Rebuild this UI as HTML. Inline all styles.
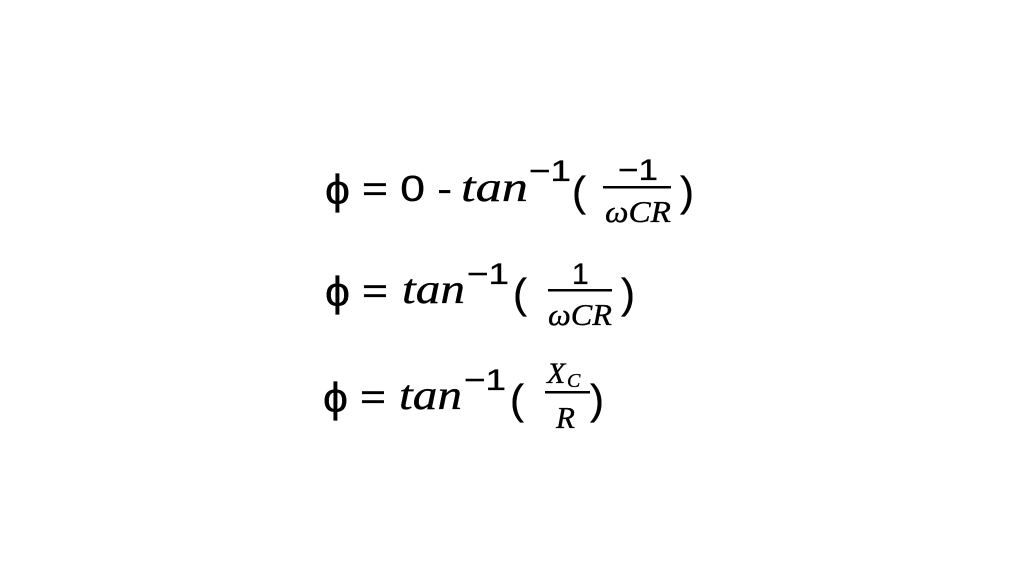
<!DOCTYPE html>
<html><head><style>html,body{margin:0;padding:0;background:#fff;}svg{display:block}</style></head>
<body>
<svg width="1024" height="576" viewBox="0 0 1024 576" xmlns="http://www.w3.org/2000/svg" font-family="Liberation Sans, DejaVu Sans, sans-serif" fill="#000" stroke="#000" stroke-width="0.35">
<!-- Line 1 -->
<text x="325" y="204" font-size="42" textLength="25" lengthAdjust="spacingAndGlyphs">ϕ</text>
<text x="362" y="201" font-size="36" textLength="90" lengthAdjust="spacingAndGlyphs">= 0 -</text>
<text x="461" y="201" font-size="42" font-style="italic" font-family="Liberation Serif, serif" textLength="67" lengthAdjust="spacingAndGlyphs">tan</text>
<text x="529" y="181" font-size="30" textLength="42" lengthAdjust="spacingAndGlyphs">−1</text>
<text x="572" y="206" font-size="42">(</text>
<text x="618" y="180" font-size="30" textLength="40" lengthAdjust="spacingAndGlyphs">−1</text>
<rect x="603" y="186" width="68" height="2.5" stroke="none"/>
<text x="605" y="222" font-size="31" font-style="italic" font-family="Liberation Serif, serif" textLength="66" lengthAdjust="spacingAndGlyphs">ωCR</text>
<text x="680" y="206" font-size="42">)</text>
<!-- Line 2 -->
<text x="325" y="306" font-size="42" textLength="25" lengthAdjust="spacingAndGlyphs">ϕ</text>
<text x="362" y="303" font-size="36" textLength="26" lengthAdjust="spacingAndGlyphs">=</text>
<text x="402" y="303" font-size="42" font-style="italic" font-family="Liberation Serif, serif" textLength="63" lengthAdjust="spacingAndGlyphs">tan</text>
<text x="467" y="284" font-size="30" textLength="42" lengthAdjust="spacingAndGlyphs">−1</text>
<text x="513" y="308" font-size="42">(</text>
<text x="572" y="284" font-size="30">1</text>
<rect x="548" y="289" width="64" height="2.5" stroke="none"/>
<text x="548" y="325" font-size="31" font-style="italic" font-family="Liberation Serif, serif" textLength="64" lengthAdjust="spacingAndGlyphs">ωCR</text>
<text x="621" y="308" font-size="42">)</text>
<!-- Line 3 -->
<text x="323" y="412" font-size="42" textLength="25" lengthAdjust="spacingAndGlyphs">ϕ</text>
<text x="360" y="409" font-size="36" textLength="26" lengthAdjust="spacingAndGlyphs">=</text>
<text x="399" y="409" font-size="42" font-style="italic" font-family="Liberation Serif, serif" textLength="63" lengthAdjust="spacingAndGlyphs">tan</text>
<text x="464" y="390" font-size="30" textLength="42" lengthAdjust="spacingAndGlyphs">−1</text>
<text x="510" y="414" font-size="42">(</text>
<text x="547" y="383" font-size="30" font-style="italic" font-family="Liberation Serif, serif">X</text>
<text x="567" y="387" font-size="20" font-style="italic" font-family="Liberation Serif, serif">C</text>
<rect x="545" y="391" width="45" height="2.5" stroke="none"/>
<text x="556" y="428" font-size="31" font-style="italic" font-family="Liberation Serif, serif">R</text>
<text x="590" y="414" font-size="42">)</text>
</svg>
</body></html>
